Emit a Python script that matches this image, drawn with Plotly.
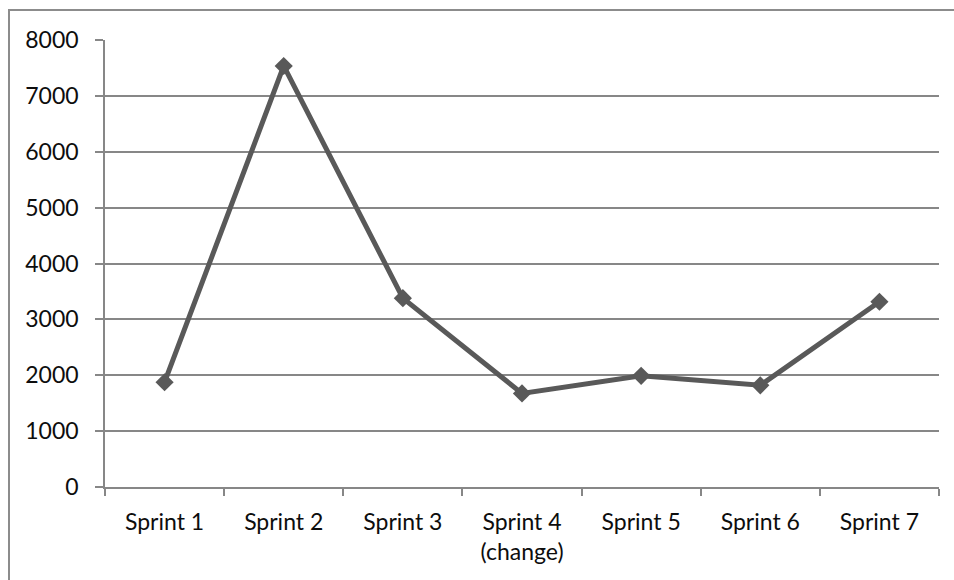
import plotly.graph_objects as go

# Values per sprint
sprints = ["Sprint 1", "Sprint 2", "Sprint 3", "Sprint 4<br>(change)", "Sprint 5", "Sprint 6", "Sprint 7"]
values = [1875, 7535, 3380, 1675, 1990, 1820, 3315]
y_ticks = [0, 1000, 2000, 3000, 4000, 5000, 6000, 7000, 8000]

grey = "#878787"
line_col = "#595959"

fig = go.Figure(
    go.Scatter(
        x=sprints,
        y=values,
        mode="lines+markers",
        line=dict(color=line_col, width=5),
        marker=dict(symbol="diamond", size=14, color=line_col),
        cliponaxis=False,
        hoverinfo="x+y",
    )
)

fig.update_layout(
    width=954,
    height=580,
    margin=dict(l=105, r=15, t=40, b=93),
    plot_bgcolor="white",
    paper_bgcolor="white",
    showlegend=False,
    font=dict(family="Lato, Open Sans, sans-serif", size=23, color="#0d0d0d"),
)

# outer frame of the chart (left and top edges visible)
fig.add_shape(
    type="rect", xref="paper", yref="paper",
    x0=-96 / 834, x1=1 + 20 / 834, y0=-(93 + 20) / 447, y1=1 + 30 / 447,
    line=dict(color="#8c8c8c", width=2), fillcolor="rgba(0,0,0,0)", layer="below",
)

fig.update_xaxes(
    type="category",
    showgrid=False,
    showline=True,
    linecolor=grey,
    linewidth=1.5,
    ticks="outside",
    tickson="boundaries",
    ticklen=7,
    tickcolor=grey,
    tickwidth=1.5,
    ticklabelstandoff=14,
    range=[-0.5, 6.5],
    fixedrange=True,
)
fig.update_yaxes(
    range=[0, 8000],
    tickvals=y_ticks,
    ticktext=[str(v) for v in y_ticks],
    showgrid=True,
    gridcolor=grey,
    gridwidth=1.5,
    showline=True,
    linecolor=grey,
    linewidth=1.5,
    ticks="outside",
    ticklen=8,
    tickcolor=grey,
    tickwidth=1.5,
    ticklabelstandoff=12,
    zeroline=False,
    fixedrange=True,
)

fig.write_html("out.html")
